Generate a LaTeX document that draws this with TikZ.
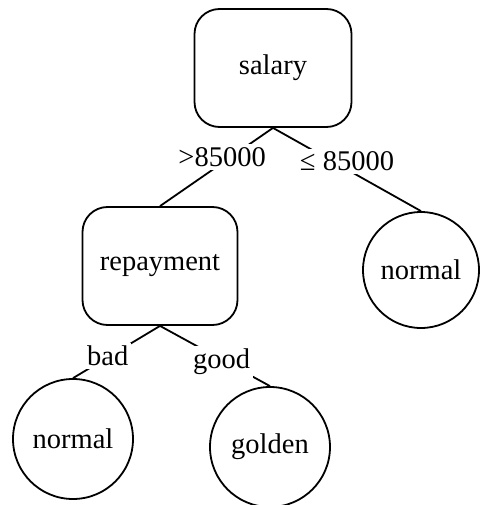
\documentclass[tikz,border=0pt]{standalone}
\usepackage{fontspec}
\setmainfont{Liberation Serif}

\begin{document}
\begin{tikzpicture}[x=1pt,y=-1pt,line width=1.8pt,
  every node/.style={font=\fontsize{28.5}{32}\selectfont},
  test/.style={draw,rounded corners=25pt,minimum width=157pt,minimum height=118pt},
  leaf/.style={draw,circle,minimum size=120pt,inner sep=0pt},
  branch/.style={fill=white,inner sep=3pt}]
\useasboundingbox (0,0) rectangle (480,505);

\node[test] (salary) at (273,68) {salary};
\node[test,minimum width=155pt] (repay) at (160,266) {repayment};
\node[leaf,minimum size=116pt] (n1) at (421,270) {normal};
\node[leaf] (n2) at (73,439) {normal};
\node[leaf] (gold) at (270,447) {golden};

% branches
\draw (salary.south) -- node[branch,pos=0.45,yshift=6pt] {>85000} (repay.north);
\draw (salary.south) -- node[branch,yshift=8pt] {≤ 85000} (n1.north);
\draw (repay.south) -- node[branch,pos=0.6,yshift=1pt] {bad} (n2.north);
\draw (repay.south) -- node[branch,pos=0.56,yshift=-2pt] {good} (gold.north);
\end{tikzpicture}
\end{document}
